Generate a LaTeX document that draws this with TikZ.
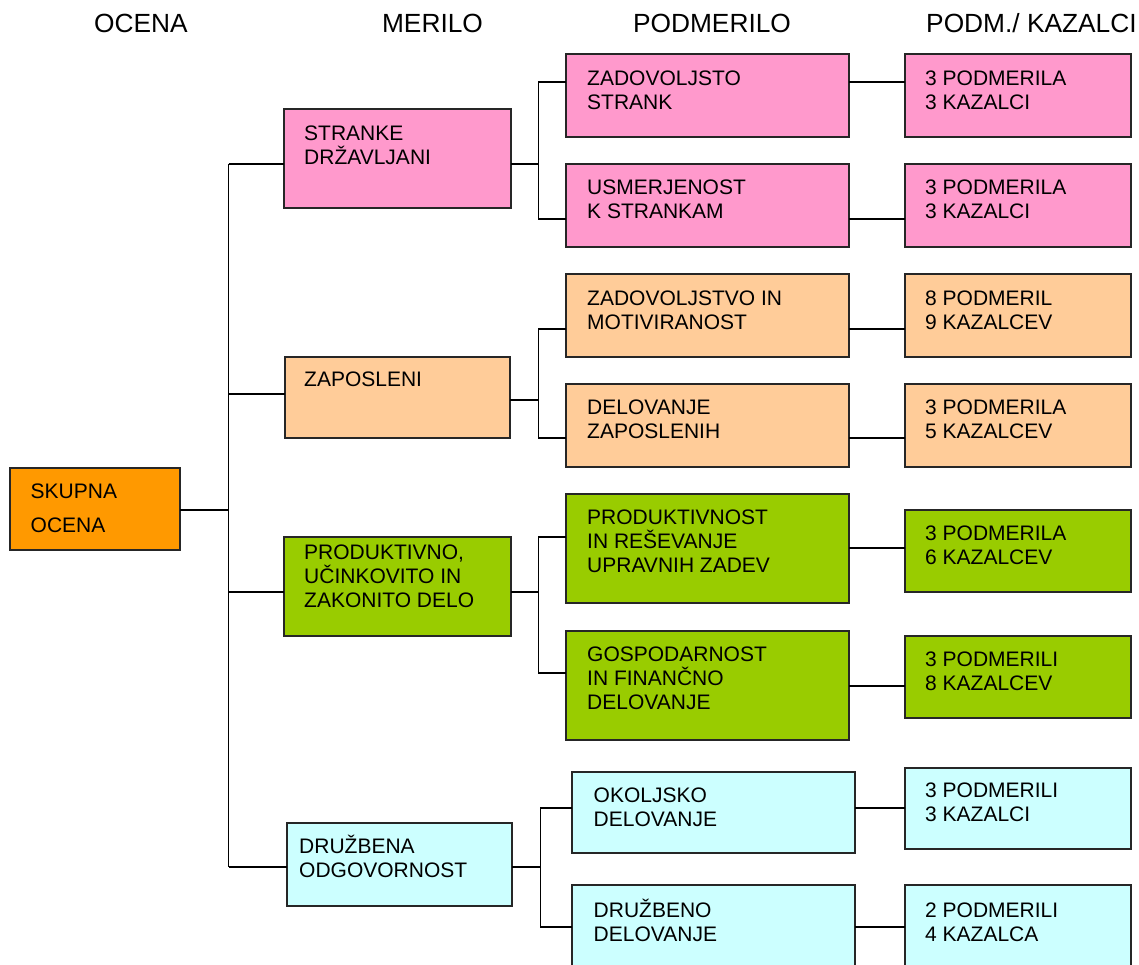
\documentclass[tikz,border=0pt]{standalone}
\usepackage{fontspec}
\setmainfont{Liberation Sans}
\definecolor{cpink}{HTML}{FF99CC}
\definecolor{cpeach}{HTML}{FFCC99}
\definecolor{corange}{HTML}{FF9900}
\definecolor{cgreen}{HTML}{99CC00}
\definecolor{ccyan}{HTML}{CCFFFF}
\newcommand\mybox[6]{\node[box, fill=#6, minimum width={(#4-#2)*1pt}, minimum height={(#5-#3)*1pt}] (#1) at (#2,#3) {};}
\begin{document}
\begin{tikzpicture}[x=1pt,y=-1pt,
  box/.style={draw=black!85, line width=1.5pt, inner sep=0pt, outer sep=0pt, anchor=north west},
  txt/.style={anchor=base west, inner sep=0pt, font=\fontsize{21}{24}\selectfont},
  hdr/.style={inner sep=0pt, font=\fontsize{26.3}{30}\selectfont},
  conn/.style={line width=1.5pt, black}]
\useasboundingbox[fill=white] (0,0) rectangle (1139,964);

% headers
\node[hdr, anchor=base] (h1) at (141,32) {OCENA};
\node[hdr, anchor=base] (h2) at (432.5,32) {MERILO};
\node[hdr, anchor=base] (h3) at (712,32) {PODMERILO};
\node[hdr, anchor=base west] (h4) at (926,32) {PODM./ KAZALCI};

% boxes
\mybox{skupna}{10}{468}{180}{550}{corange}
\mybox{m1}{284}{109}{511}{208}{cpink}
\mybox{m2}{285}{357}{510}{438}{cpeach}
\mybox{m3}{284}{537}{511}{636}{cgreen}
\mybox{m4}{287}{823}{512}{906}{ccyan}

\mybox{p1}{566}{54}{849}{137}{cpink}
\mybox{p2}{566}{164}{849}{247}{cpink}
\mybox{p3}{566}{274}{849}{357}{cpeach}
\mybox{p4}{566}{384}{849}{467}{cpeach}
\mybox{p5}{566}{494}{849}{603}{cgreen}
\mybox{p6}{566}{631}{849}{740}{cgreen}
\mybox{p7}{572}{772}{855}{853}{ccyan}
\mybox{p8}{572}{885}{855}{980}{ccyan}

\mybox{k1}{905}{54}{1131}{137}{cpink}
\mybox{k2}{905}{164}{1131}{247}{cpink}
\mybox{k3}{905}{274}{1131}{357}{cpeach}
\mybox{k4}{905}{384}{1131}{467}{cpeach}
\mybox{k5}{905}{510}{1131}{592}{cgreen}
\mybox{k6}{905}{636}{1131}{718}{cgreen}
\mybox{k7}{905}{768}{1131}{849}{ccyan}
\mybox{k8}{905}{885}{1131}{980}{ccyan}

% texts
\node[txt] (skupnat) at (30.5,498) {\vtop{\baselineskip=34pt\hbox{SKUPNA}\hbox{OCENA}}};
\node[txt] (m1t) at (304,140) {\vtop{\hbox{STRANKE}\hbox{DRŽAVLJANI}}};
\node[txt] (m2t) at (304,386) {ZAPOSLENI};
\node[txt] (m3t) at (304,559) {\vtop{\hbox{PRODUKTIVNO,}\hbox{UČINKOVITO IN}\hbox{ZAKONITO DELO}}};
\node[txt] (m4t) at (299,853) {\vtop{\hbox{DRUŽBENA}\hbox{ODGOVORNOST}}};

\node[txt] (p1t) at (587,85) {\vtop{\hbox{ZADOVOLJSTO}\hbox{STRANK}}};
\node[txt] (p2t) at (587,194) {\vtop{\hbox{USMERJENOST}\hbox{K STRANKAM}}};
\node[txt] (p3t) at (587,305) {\vtop{\hbox{ZADOVOLJSTVO IN}\hbox{MOTIVIRANOST}}};
\node[txt] (p4t) at (587,414) {\vtop{\hbox{DELOVANJE}\hbox{ZAPOSLENIH}}};
\node[txt] (p5t) at (587,524) {\vtop{\hbox{PRODUKTIVNOST}\hbox{IN REŠEVANJE}\hbox{UPRAVNIH ZADEV}}};
\node[txt] (p6t) at (587,661) {\vtop{\hbox{GOSPODARNOST}\hbox{IN FINANČNO}\hbox{DELOVANJE}}};
\node[txt] (p7t) at (593.5,802) {\vtop{\hbox{OKOLJSKO}\hbox{DELOVANJE}}};
\node[txt] (p8t) at (593.5,917) {\vtop{\hbox{DRUŽBENO}\hbox{DELOVANJE}}};

\node[txt] (k1t) at (925,85) {\vtop{\hbox{3 PODMERILA}\hbox{3 KAZALCI}}};
\node[txt] (k2t) at (925,194) {\vtop{\hbox{3 PODMERILA}\hbox{3 KAZALCI}}};
\node[txt] (k3t) at (925,305) {\vtop{\hbox{8 PODMERIL}\hbox{9 KAZALCEV}}};
\node[txt] (k4t) at (925,414) {\vtop{\hbox{3 PODMERILA}\hbox{5 KAZALCEV}}};
\node[txt] (k5t) at (925,540) {\vtop{\hbox{3 PODMERILA}\hbox{6 KAZALCEV}}};
\node[txt] (k6t) at (925,666) {\vtop{\hbox{3 PODMERILI}\hbox{8 KAZALCEV}}};
\node[txt] (k7t) at (925,797) {\vtop{\hbox{3 PODMERILI}\hbox{3 KAZALCI}}};
\node[txt] (k8t) at (925,917) {\vtop{\hbox{2 PODMERILI}\hbox{4 KAZALCA}}};

% trunk
\coordinate (t1) at (228.5,164);
\coordinate (t2) at (228.5,394);
\coordinate (ts) at (228.5,510);
\coordinate (t3) at (228.5,592);
\coordinate (t4) at (228.5,867);
\draw[conn] (t1) -- (t4);
\draw[conn] (skupna.east |- ts) -- (ts);
\draw[conn] (t1) -- (m1.west |- t1);
\draw[conn] (t2) -- (m2.west |- t2);
\draw[conn] (t3) -- (m3.west |- t3);
\draw[conn] (t4) -- (m4.west |- t4);

% branches
\coordinate (b1) at (538.5,164);
\coordinate (b1a) at (538.5,82);
\coordinate (b1b) at (538.5,219);
\draw[conn] (m1.east |- b1) -- (b1);
\draw[conn] (p1.west |- b1a) -- (b1a) -- (b1b) -- (p2.west |- b1b);

\coordinate (b2) at (538.5,400);
\coordinate (b2a) at (538.5,329);
\coordinate (b2b) at (538.5,438);
\draw[conn] (m2.east |- b2) -- (b2);
\draw[conn] (p3.west |- b2a) -- (b2a) -- (b2b) -- (p4.west |- b2b);

\coordinate (b3) at (538.5,592);
\coordinate (b3a) at (538.5,537);
\coordinate (b3b) at (538.5,673);
\draw[conn] (m3.east |- b3) -- (b3);
\draw[conn] (p5.west |- b3a) -- (b3a) -- (b3b) -- (p6.west |- b3b);

\coordinate (b4) at (540.5,867);
\coordinate (b4a) at (540.5,808);
\coordinate (b4b) at (540.5,927);
\draw[conn] (m4.east |- b4) -- (b4);
\draw[conn] (p7.west |- b4a) -- (b4a) -- (b4b) -- (p8.west |- b4b);

% right connectors
\coordinate (r1) at (877,82);
\coordinate (r2) at (877,219);
\coordinate (r3) at (877,329);
\coordinate (r4) at (877,438);
\coordinate (r5) at (877,548);
\coordinate (r6) at (877,686);
\coordinate (r7) at (877,808);
\coordinate (r8) at (877,927);
\draw[conn] (p1.east |- r1) -- (k1.west |- r1);
\draw[conn] (p2.east |- r2) -- (k2.west |- r2);
\draw[conn] (p3.east |- r3) -- (k3.west |- r3);
\draw[conn] (p4.east |- r4) -- (k4.west |- r4);
\draw[conn] (p5.east |- r5) -- (k5.west |- r5);
\draw[conn] (p6.east |- r6) -- (k6.west |- r6);
\draw[conn] (p7.east |- r7) -- (k7.west |- r7);
\draw[conn] (p8.east |- r8) -- (k8.west |- r8);
\end{tikzpicture}
\end{document}
